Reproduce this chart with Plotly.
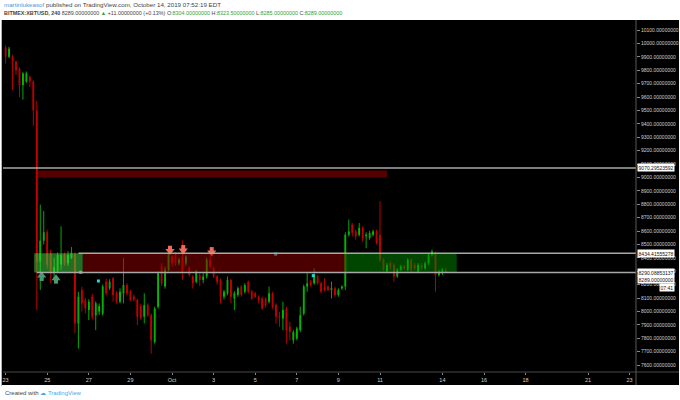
import plotly.graph_objects as go
import pandas as pd

# ---- data (4h candles, BITMEX:XBTUSD) ----
times = pd.date_range("2019-09-22 20:00", periods=129, freq="4h")
opens = [10030, 9970, 9900, 9905, 9865, 9810, 9690, 9715, 9750, 9715,
         9500, 8372, 8527, 8590, 8440, 8290, 8300, 8350, 8420, 8360,
         8400, 8435, 7910, 8160, 8085, 8010, 8110, 7972, 8000, 7985,
         8222, 8172, 8247, 8135, 8072, 8135, 8197, 8147, 8110, 8085,
         8040, 7960, 8047, 7972, 7772, 8035, 8335, 8185, 8310, 8410,
         8422, 8360, 8410, 8360, 8322, 8260, 8222, 8272, 8235, 8260,
         8385, 8322, 8260, 8235, 8110, 8135, 8235, 8097, 8122, 8185,
         8147, 8222, 8147, 8135, 8110, 8097, 8097, 8072, 8135, 8047,
         7965, 7947, 8022, 7885, 7785, 7797, 7860, 7985, 8185, 8222,
         8210, 8260, 8210, 8185, 8185, 8160, 8172, 8122, 8172, 8185,
         8572, 8647, 8597, 8572, 8622, 8560, 8547, 8572, 8597, 8572,
         8385, 8297, 8360, 8347, 8260, 8310, 8335, 8310, 8385, 8347,
         8297, 8347, 8322, 8360, 8422, 8430, 8272, 8285, 8304]
highs = [10060, 9985, 9975, 9915, 9870, 9820, 9785, 9790, 9760, 9725,
         9570, 8797, 8750, 8610, 8460, 8400, 8440, 8635, 8440, 8450,
         8480, 8440, 8147, 8185, 8100, 8090, 8130, 8075, 8060, 8200,
         8245, 8240, 8255, 8150, 8172, 8397, 8210, 8160, 8125, 8095,
         8055, 8135, 8060, 7985, 8035, 8300, 8360, 8335, 8460, 8422,
         8440, 8400, 8530, 8420, 8335, 8270, 8310, 8285, 8285, 8400,
         8440, 8335, 8270, 8245, 8160, 8260, 8245, 8150, 8185, 8195,
         8210, 8230, 8160, 8145, 8120, 8110, 8105, 8185, 8145, 8060,
         7997, 8072, 8035, 7922, 7860, 7885, 8035, 8200, 8285, 8235,
         8322, 8272, 8222, 8247, 8195, 8222, 8185, 8172, 8195, 8590,
         8685, 8660, 8610, 8660, 8635, 8590, 8600, 8610, 8610, 8822,
         8395, 8360, 8372, 8360, 8322, 8347, 8347, 8397, 8397, 8360,
         8360, 8360, 8372, 8435, 8460, 8447, 8310, 8322, 8323.5]
lows = [9960, 9850, 9890, 9650, 9765, 9600, 9580, 9705, 9675, 9385,
        8010, 8160, 8500, 8320, 8210, 8240, 8290, 8310, 8340, 8340,
        8390, 7835, 7722, 8000, 7985, 7935, 7940, 7860, 7975, 7970,
        8120, 8160, 8072, 8060, 8060, 8060, 8120, 8075, 8075, 7897,
        7935, 7910, 7960, 7685, 7760, 8020, 8190, 8170, 8300, 8335,
        8340, 8345, 8235, 8340, 8260, 8170, 8210, 8190, 8210, 8245,
        8320, 8250, 8200, 8060, 8090, 8120, 8060, 8010, 8110, 8110,
        8135, 8135, 8085, 8100, 8060, 8010, 8030, 8060, 8020, 7910,
        7885, 7860, 7760, 7785, 7760, 7785, 7845, 7970, 8147, 8185,
        8200, 8200, 8135, 8150, 8150, 8097, 8110, 8110, 8160, 8160,
        8560, 8560, 8535, 8560, 8520, 8472, 8535, 8560, 8500, 8370,
        8300, 8285, 8310, 8222, 8250, 8300, 8310, 8300, 8285, 8310,
        8285, 8310, 8310, 8347, 8410, 8147, 8260, 8272, 8285]
closes = [9975, 9900, 9960, 9865, 9800, 9690, 9775, 9777, 9715, 9500,
          8370, 8527, 8590, 8350, 8300, 8330, 8420, 8420, 8360, 8420,
          8440, 7910, 8110, 8060, 8022, 8072, 7960, 8060, 8040, 8185,
          8135, 8222, 8122, 8072, 8147, 8197, 8135, 8085, 8090, 7960,
          7950, 8047, 7972, 7785, 8022, 8285, 8210, 8310, 8422, 8360,
          8360, 8385, 8297, 8410, 8272, 8210, 8297, 8235, 8260, 8385,
          8335, 8260, 8222, 8110, 8147, 8235, 8110, 8135, 8172, 8122,
          8197, 8147, 8097, 8110, 8085, 8022, 8047, 8135, 8035, 7960,
          7955, 8010, 7860, 7847, 7847, 7872, 7972, 8185, 8210, 8197,
          8272, 8210, 8147, 8160, 8160, 8172, 8122, 8160, 8185, 8572,
          8597, 8585, 8560, 8622, 8547, 8572, 8585, 8597, 8510, 8385,
          8310, 8347, 8335, 8260, 8310, 8335, 8322, 8385, 8310, 8322,
          8347, 8322, 8360, 8422, 8447, 8272, 8297, 8310, 8289]

# drawn levels / zones
level_lines = [9070.29523592, 8434.41555278, 8290.08853137]
zone_low, zone_high = 8290.08853137, 8434.41555278
upper_zone_low, upper_zone_high = 9000, 9052
up_arrow_t = ["2019-09-24 17:40", "2019-09-25 10:10"]
up_arrow_p = [8267, 8247]
down_arrow_t = ["2019-09-30 21:40", "2019-10-01 13:00", "2019-10-02 21:50"]
down_arrow_p = [8450, 8455, 8440]
dot_t = ["2019-09-26 14:40", "2019-09-27 11:05", "2019-10-05 23:40", "2019-10-07 19:00"]
dot_p = [8292, 8227, 8427, 8267]
price_ticks = list(range(7600, 10101, 100))
date_ticks = ["2019-09-23", "2019-09-25", "2019-09-27", "2019-09-29", "2019-10-01",
              "2019-10-03", "2019-10-05", "2019-10-07", "2019-10-09", "2019-10-11",
              "2019-10-14", "2019-10-16", "2019-10-18", "2019-10-21", "2019-10-23"]
date_labels = ["23", "25", "27", "29", "Oct", "3", "5", "7", "9", "11",
               "14", "16", "18", "21", "23"]

X0, X1 = "2019-09-22 21:00", "2019-10-23 07:23"
xs = [t.strftime("%Y-%m-%d %H:%M") for t in times]

# wicks
inc_x, inc_y, dec_x, dec_y = [], [], [], []
for t, o, h, l, c in zip(xs, opens, highs, lows, closes):
    if c >= o:
        inc_x += [t, t, None]; inc_y += [l, h, None]
    else:
        dec_x += [t, t, None]; dec_y += [l, h, None]

fig = go.Figure()
fig.add_trace(go.Scatter(x=inc_x, y=inc_y, mode="lines", line=dict(color="rgb(0,170,0)", width=1),
                         hoverinfo="skip"))
fig.add_trace(go.Scatter(x=dec_x, y=dec_y, mode="lines", line=dict(color="rgb(185,0,0)", width=1),
                         hoverinfo="skip"))
fig.add_trace(go.Candlestick(
    x=xs, open=opens, high=highs, low=lows, close=closes,
    increasing=dict(line=dict(color="rgb(0,225,0)", width=0), fillcolor="rgb(0,225,0)"),
    decreasing=dict(line=dict(color="rgb(225,0,0)", width=0), fillcolor="rgb(225,0,0)"),
))
# arrows (head + stem)
fig.add_trace(go.Scatter(x=up_arrow_t, y=up_arrow_p, mode="markers",
                         marker=dict(symbol="triangle-up", size=8, color="#4a9a74", line=dict(width=0))))
fig.add_trace(go.Scatter(x=up_arrow_t, y=[p - 25 for p in up_arrow_p], mode="markers",
                         marker=dict(symbol="square", size=4, color="#4a9a74", line=dict(width=0))))
fig.add_trace(go.Scatter(x=down_arrow_t, y=down_arrow_p, mode="markers",
                         marker=dict(symbol="triangle-down", size=8, color="#f06a58", line=dict(width=0))))
fig.add_trace(go.Scatter(x=down_arrow_t, y=[p + 25 for p in down_arrow_p], mode="markers",
                         marker=dict(symbol="square", size=4, color="#f06a58", line=dict(width=0))))
fig.add_trace(go.Scatter(x=dot_t, y=dot_p, mode="markers",
                         marker=dict(symbol="square", size=3, color="#20d8d8", line=dict(width=0))))

def px_x(px):
    return (px - 3) / 633.0

def px_y(py):
    return (372 - py) / 352.0

shapes = [
    # black chart frame incl. axes
    dict(type="rect", xref="paper", yref="paper", x0=px_x(2), x1=px_x(679), y0=px_y(385), y1=1,
         fillcolor="black", line=dict(width=0), layer="below"),
    # zones
    dict(type="rect", xref="x", yref="y", x0="2019-09-24 13:30", x1="2019-10-11 08:10",
         y0=upper_zone_low, y1=upper_zone_high, fillcolor="rgba(170,0,0,0.5)", line=dict(width=0), layer="above"),
    dict(type="rect", xref="x", yref="y", x0="2019-09-24 09:00", x1="2019-09-26 17:00",
         y0=zone_low, y1=zone_high, fillcolor="rgba(70,220,70,0.5)", line=dict(width=0), layer="above"),
    dict(type="rect", xref="x", yref="y", x0="2019-09-26 17:00", x1="2019-10-09 08:45",
         y0=zone_low, y1=zone_high, fillcolor="rgba(150,0,0,0.5)", line=dict(width=0), layer="above"),
    dict(type="rect", xref="x", yref="y", x0="2019-10-09 08:45", x1="2019-10-14 16:30",
         y0=zone_low, y1=zone_high, fillcolor="rgba(0,140,0,0.5)", line=dict(width=0), layer="above"),
    # horizontal levels
    dict(type="line", xref="x", yref="y", x0=X0, x1=X1, y0=level_lines[0], y1=level_lines[0],
         line=dict(color="#a8a8a8", width=1.5), layer="above"),
    dict(type="line", xref="x", yref="y", x0="2019-09-26 12:00", x1=X1, y0=level_lines[1], y1=level_lines[1],
         line=dict(color="#a8a8a8", width=1.5), layer="above"),
    dict(type="line", xref="x", yref="y", x0="2019-09-24 12:00", x1=X1, y0=level_lines[2], y1=level_lines[2],
         line=dict(color="#a8a8a8", width=1.5), layer="above"),
    # frame lines
    dict(type="line", xref="paper", yref="paper", x0=1, x1=1, y0=px_y(385), y1=1,
         line=dict(color="#5a5a5a", width=1), layer="above"),
    dict(type="line", xref="paper", yref="paper", x0=0, x1=px_x(679), y0=0, y1=0,
         line=dict(color="#4a4a4a", width=1), layer="above"),
    dict(type="line", xref="paper", yref="paper", x0=px_x(1.5), x1=px_x(1.5), y0=px_y(386), y1=1,
         line=dict(color="#b0b0b0", width=1), layer="above"),
]

lab_font = dict(family="Liberation Sans", size=5, color="#111")
annotations = [
    dict(xref="paper", yref="paper", x=px_x(2), y=px_y(4.5), xanchor="left", yanchor="middle",
         showarrow=False, font=dict(family="Liberation Sans", size=6.2, color="#444"),
         text="<span style='color:#4f95d6'>martinlukeasof</span> published on TradingView.com, October 14, 2019 07:52:19 EDT"),
    dict(xref="paper", yref="paper", x=px_x(2), y=px_y(12.5), xanchor="left", yanchor="middle",
         showarrow=False, font=dict(family="Liberation Sans", size=5.4, color="#444"),
         text="<b>BITMEX:XBTUSD, 240</b> 8289.00000000 <span style='color:#2fa52f'>▲</span> +11.00000000 (+0.13%) "
              "O:<span style='color:#2fa52f'>8304.00000000</span> H:<span style='color:#2fa52f'>8323.50000000</span> "
              "L:<span style='color:#2fa52f'>8285.00000000</span> C:<span style='color:#2fa52f'>8289.00000000</span>"),
    dict(xref="paper", yref="paper", x=px_x(3), y=px_y(392.5), xanchor="left", yanchor="middle",
         showarrow=False, font=dict(family="Liberation Sans", size=6, color="#444"),
         text="Created with <span style='color:#49a7e8'>☁ TradingView</span>"),
    dict(xref="paper", yref="y", x=px_x(636.5), y=level_lines[0], xanchor="left", yanchor="middle",
         showarrow=False, bgcolor="white", borderpad=0.6, font=lab_font, text="9070.29523592"),
    dict(xref="paper", yref="y", x=px_x(636.5), y=level_lines[1], xanchor="left", yanchor="middle",
         showarrow=False, bgcolor="white", borderpad=0.6, font=lab_font, text="8434.41555278"),
    dict(xref="paper", yref="y", x=px_x(636.5), y=level_lines[2], xanchor="left", yanchor="middle",
         showarrow=False, bgcolor="white", borderpad=0.6, font=lab_font, text="8290.08853137"),
    dict(xref="paper", yref="y", x=px_x(636.5), y=closes[-1], yshift=-7, xanchor="left", yanchor="middle",
         showarrow=False, bgcolor="white", borderpad=0.6, font=lab_font, text="8289.00000000"),
    dict(xref="paper", yref="y", x=px_x(659), y=closes[-1], yshift=-14.5, xanchor="left", yanchor="middle",
         showarrow=False, bgcolor="white", borderpad=0.6, font=lab_font, text="07:41"),
]

fig.update_layout(
    width=680, height=400,
    margin=dict(l=3, r=44, t=20, b=28, autoexpand=False),
    paper_bgcolor="white", plot_bgcolor="black",
    showlegend=False,
    shapes=shapes, annotations=annotations,
    xaxis=dict(type="date", range=[X0, X1], rangeslider=dict(visible=False), automargin=False,
               tickmode="array", tickvals=date_ticks, ticktext=date_labels,
               showgrid=False, zeroline=False, showline=False,
               ticks="outside", ticklen=2, tickcolor="#888",
               tickfont=dict(family="Liberation Sans", size=5.5, color="#d0d0d0")),
    yaxis=dict(side="right", range=[7547.8, 10174.6], tickmode="array", tickvals=price_ticks,
               ticktext=[f"{v}.00000000" for v in price_ticks], automargin=False,
               showgrid=False, zeroline=False, showline=False,
               ticks="outside", ticklen=3, tickcolor="#888",
               tickfont=dict(family="Liberation Sans", size=5, color="#d0d0d0")),
)

fig.write_html("out.html", config={"displayModeBar": False},
               post_script="document.body.style.margin='0';document.body.style.padding='0';")
